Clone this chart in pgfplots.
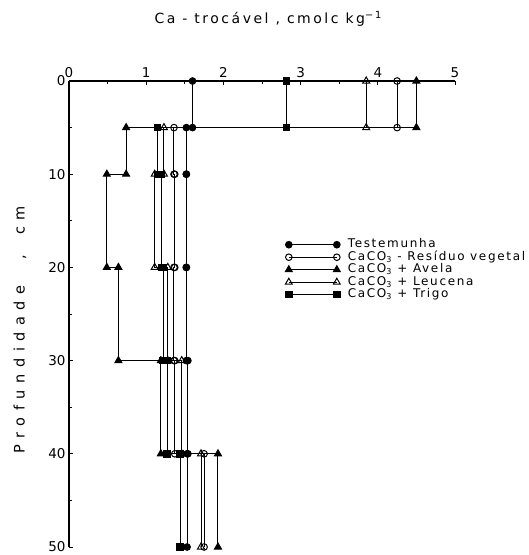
\documentclass[border=0pt]{standalone}
\usepackage{fontspec}
\setmainfont{DejaVu Sans}
\newfontfamily\titlefont[LetterSpace=18]{DejaVu Sans}
\newfontfamily\legfont[LetterSpace=14]{DejaVu Sans}
\newfontfamily\ylabfont[LetterSpace=45]{DejaVu Sans}
\usepackage{pgfplots}
\pgfplotsset{compat=1.18}

% Ca trocavel (cmolc/kg) por camada: 0-5, 5-10, 10-20, 20-30, 30-40, 40-50 cm
\begin{document}
\begin{tikzpicture}
\begin{axis}[
  scale only axis, width=386pt, height=466pt,
  xmin=0, xmax=5, ymin=0, ymax=50, y dir=reverse,
  axis x line*=top, axis y line*=left,
  axis line style={line width=1.2pt, -},
  xtick={0,1,...,5}, ytick={0,10,...,50},
  minor xtick={0.5,1.5,...,4.5}, minor ytick={5,15,...,45},
  tick align=inside, major tick length=4pt, minor tick length=3pt,
  every tick/.style={black, line width=0.8pt},
  ticklabel style={font=\fontsize{13.5}{13.5}\selectfont},
  /pgf/number format/assume math mode=true,
  title={\titlefont Ca - trocável , cmolc kg\textsuperscript{−1}},
  title style={at={(0.516,1)}, anchor=center, yshift=56pt, font=\fontsize{14}{14}\selectfont},
  ylabel={\ylabfont Profundidade\hspace{26pt},\hspace{20pt}cm},
  ylabel style={at={(axis description cs:-0.127,0.466)}, anchor=center, font=\fontsize{14.5}{14.5}\selectfont},
  legend style={draw=none, fill=none, at={(axis cs:2.80,16.9)}, anchor=north west,
    inner sep=0pt, font=\fontsize{12}{12}\selectfont\legfont, row sep=0.5pt,
    nodes={inner sep=0.5pt, text height=8.5pt, text depth=2.5pt},
    /tikz/every odd column/.append style={column sep=7pt}},
  legend cell align=left,
  legend image code/.code={\draw[#1] plot coordinates {(0pt,0pt) (48pt,0pt)};},
  clip=false,
]
% Testemunha
\addplot[black, line width=1pt, mark=*, mark size=3.3pt] coordinates {
  (1.60,0) (1.60,5) (1.52,5) (1.52,10) (1.52,10) (1.52,20) (1.52,20) (1.52,30)
  (1.54,30) (1.54,40) (1.53,40) (1.53,50)};
% CaCO3 - Residuo vegetal
\addplot[black, line width=1pt, mark=o, mark size=3.3pt, mark options={fill=white}] coordinates {
  (4.25,0) (4.25,5) (1.36,5) (1.36,10) (1.37,10) (1.37,20) (1.36,20) (1.36,30)
  (1.37,30) (1.37,40) (1.75,40) (1.75,50)};
% CaCO3 + Avela
\addplot[black, line width=1pt, mark=triangle*, mark size=4pt] coordinates {
  (4.50,0) (4.50,5) (0.74,5) (0.74,10) (0.49,10) (0.49,20) (0.64,20) (0.64,30)
  (1.19,30) (1.19,40) (1.93,40) (1.93,50)};
% CaCO3 + Leucena
\addplot[black, line width=1pt, mark=triangle, mark size=4pt, mark options={fill=white}] coordinates {
  (3.85,0) (3.85,5) (1.23,5) (1.23,10) (1.11,10) (1.11,20) (1.28,20) (1.28,30)
  (1.46,30) (1.46,40) (1.71,40) (1.71,50)};
% CaCO3 + Trigo
\addplot[black, line width=1pt, mark=square*, mark size=3.2pt] coordinates {
  (2.82,0) (2.82,5) (1.15,5) (1.15,10) (1.20,10) (1.20,20) (1.22,20) (1.22,30)
  (1.27,30) (1.27,40) (1.44,40) (1.44,50)};
\legend{Testemunha, CaCO\textsubscript{3} - Resíduo vegetal, CaCO\textsubscript{3} + Avela,
  CaCO\textsubscript{3} + Leucena, CaCO\textsubscript{3} + Trigo}
\end{axis}
\pgfresetboundingbox
\path[use as bounding box] (-69pt,-8pt) rectangle (460pt,547pt);
\end{tikzpicture}
\end{document}
